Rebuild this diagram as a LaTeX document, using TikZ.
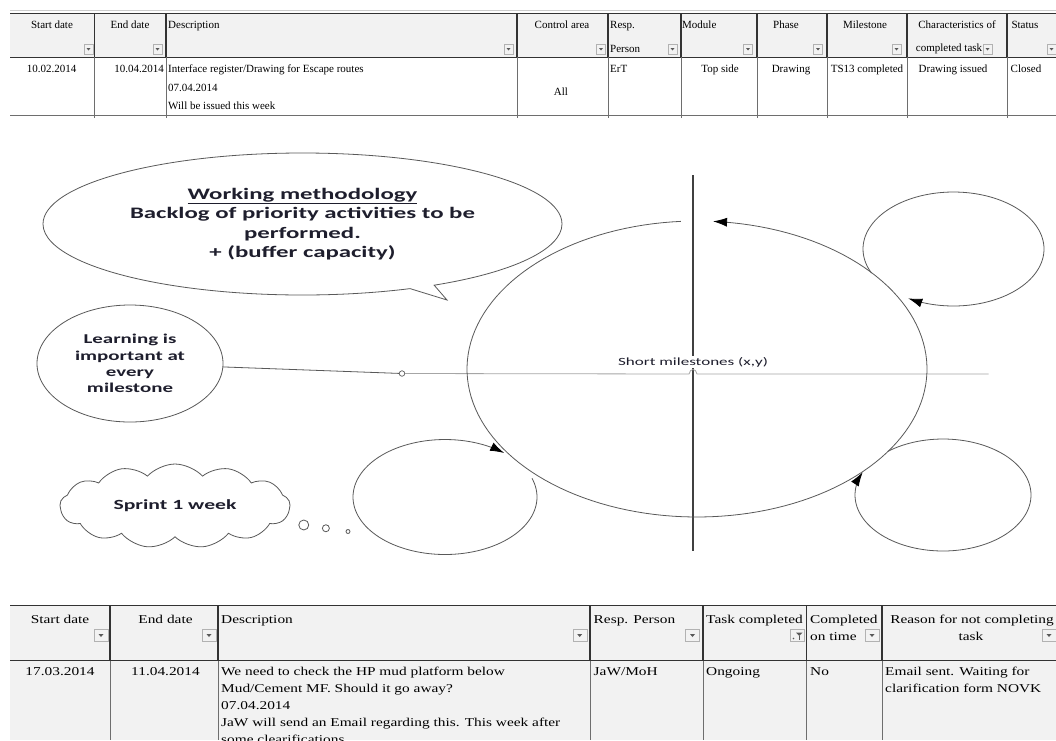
\documentclass[tikz,border=0pt]{standalone}
\usepackage{fontspec}
\setmainfont{Liberation Serif}
\newfontfamily\tabfont[FakeStretch=1.28]{Liberation Serif}
\newfontfamily\calib[FakeStretch=1.55]{Carlito}
\usetikzlibrary{arrows.meta, shapes.geometric, shapes.symbols, shapes.callouts}
\definecolor{kopfgrau}{RGB}{242,242,242}
\definecolor{liniegrau}{RGB}{110,110,110}
\definecolor{textdunkel}{RGB}{30,30,45}

\begin{document}
\begin{tikzpicture}[x=1pt, y=-1pt, >={Latex[length=14pt,width=9pt,color=black]}, font=\fontsize{11}{13}\selectfont,
		kopf/.style={anchor=base, inner sep=0pt},
		kopfl/.style={anchor=base west, inner sep=0pt},
		dick/.style={black!80, line width=1.6pt},
		gitter/.style={liniegrau, line width=0.9pt},
		knopf/.style={draw=gray!60, fill=gray!10, line width=0.4pt},
		unten/.style={font=\tabfont\fontsize{12}{14}\selectfont},
		blase/.style={draw=black!65, line width=0.8pt, fill=white, text=textdunkel, align=center, inner sep=0pt},
		schleife/.style={black!65, line width=0.8pt}]
				\useasboundingbox (0,0) rectangle (1056,740);
				\fill[white] (0,0) rectangle (1056,740);
				% Tabelle oben
				\fill[kopfgrau] (10,13.5) rectangle (1056,57.4);
				\draw[gray!40, line width=0.8pt] (10,10) -- (1056,10);
				\draw[dick] (10,13.5) -- (1056,13.5);
				\draw[dick] (10,57.4) -- (1056,57.4);
				\draw[gitter] (10,115) -- (1056,115);
				\foreach \x in {94.6,166,517,608,681,757,827,907,1007} {
					\draw[dick, line width=1.2pt] (\x,13.5) -- (\x,57.4);
					\draw[gitter] (\x,57.4) -- (\x,118);
				}
				\foreach \x in {93,162,513,605.5,677,752.5,822.5,901,992,1056} {
					\draw[knopf] (\x-9,44) rectangle (\x,54);
					\fill[gray!70!black] (\x-6.5,48) -- (\x-2.5,48) -- (\x-4.5,50.5) -- cycle;
				}
				% Kopfzeile oben
				\node[kopf] (ks) at (52,28.7) {Start date};
				\node[kopf] (ke) at (130,28.7) {End date};
				\node[kopfl] (kd) at (168,28.7) {Description};
				\node[kopf] (kc) at (562,28.7) {Control area};
				\node[kopfl] (kr1) at (610,28.7) {Resp.};
				\node[kopfl] (kr2) at (610,52.5) {Person};
				\node[kopfl] (km) at (682,28.7) {Module};
				\node[kopf] (kp) at (786,28.7) {Phase};
				\node[kopf] (kms) at (865,28.7) {Milestone};
				\node[kopf] (kch1) at (957,28.7) {Characteristics of};
				\node[kopf] (kch2) at (949,51) {completed task};
				\node[kopf] (kst) at (1025,28.7) {Status};
				% Datenzeile oben
				\node[kopf] (d1) at (51.5,72.6) {10.02.2014};
				\node[anchor=base east, inner sep=0pt] (d2) at (164,72.6) {10.04.2014};
				\node[kopfl] (d3a) at (168,72.6) {Interface register/Drawing for Escape routes};
				\node[kopfl] (d3b) at (168,91) {07.04.2014};
				\node[kopfl] (d3c) at (168,109) {Will be issued this week};
				\node[kopf] (d4) at (561,95) {All};
				\node[kopfl] (d5) at (610,72.6) {ErT};
				\node[kopf] (d6) at (720,72.6) {Top side};
				\node[kopf] (d7) at (791,72.6) {Drawing};
				\node[kopf] (d8) at (867,72.6) {TS13 completed};
				\node[kopf] (d9) at (953,72.6) {Drawing issued};
				\node[kopf] (d10) at (1026,72.6) {Closed};
				% Tabelle unten
				\fill[kopfgrau] (10,605.5) rectangle (1056,740);
				\draw[dick] (10,605.5) -- (1056,605.5);
				\draw[dick] (10,660.5) -- (1056,660.5);
				\foreach \x in {110,218,590,703,806.5,882} {
					\draw[dick, line width=1.2pt] (\x,605.5) -- (\x,660.5);
					\draw[gitter] (\x,660.5) -- (\x,740);
				}
				\foreach \x in {108,216,586.7,699.5,879,1056} {
					\draw[knopf] (\x-14,629) rectangle (\x,641);
					\fill[gray!70!black] (\x-9.5,634) -- (\x-4.5,634) -- (\x-7,637) -- cycle;
				}
				% Filterknopf
				\draw[knopf] (790,629) rectangle (804,641);
				\fill[gray!70!black] (796,632.5) -- (802.5,632.5) -- (799.25,636) -- cycle;
				\draw[gray!70!black, line width=0.8pt] (799.25,635.5) -- (799.25,639.5);
				\fill[gray!70!black] (793.5,638.5) circle (0.8);
				% Kopfzeile unten
				\node[kopf, unten] (us) at (60,623.4) {Start date};
				\node[kopf, unten] (ue) at (165.5,623.4) {End date};
				\node[kopfl, unten] (ud) at (221,623.4) {Description};
				\node[kopfl, unten] (ur) at (593.5,623.4) {Resp. Person};
				\node[kopfl, unten] (ut) at (706,623.4) {Task completed};
				\node[kopfl, unten] (uc1) at (810,623.4) {Completed};
				\node[kopfl, unten] (uc2) at (810,640) {on time};
				\node[kopf, unten] (ug1) at (972,623.4) {Reason for not completing};
				\node[kopf, unten] (ug2) at (971,640) {task};
				% Datenzeile unten
				\node[kopf, unten] (w1) at (60,675.4) {17.03.2014};
				\node[kopf, unten] (w2) at (165.5,675.4) {11.04.2014};
				\node[kopfl, unten] (w3a) at (221,675.4) {We need to check the HP mud platform below};
				\node[kopfl, unten] (w3b) at (221,692.3) {Mud/Cement MF. Should it go away?};
				\node[kopfl, unten] (w3c) at (221,709.2) {07.04.2014};
				\node[kopfl, unten] (w3d) at (221,726.1) {JaW will send an Email regarding this. This week after};
				\node[kopfl, unten] (w3e) at (221,743) {some clearifications};
				\node[kopfl, unten] (w4) at (593.5,675.4) {JaW/MoH};
				\node[kopfl, unten] (w5) at (706,675.4) {Ongoing};
				\node[kopfl, unten] (w6) at (810,675.4) {No};
				\node[kopfl, unten] (w7a) at (885,675.4) {Email sent. Waiting for};
				\node[kopfl, unten] (w7b) at (885,692.3) {clarification form NOVK};
				% Sprechblase und Wolke
				\node[blase, ellipse callout, callout absolute pointer={(447,300)}, callout pointer arc=6,
					minimum width=519, minimum height=142, font=\calib\bfseries\fontsize{16}{19.5}\selectfont]
					(methode) at (302.5,224) {\underline{Working methodology}\\Backlog of priority activities to be\\performed.\\+ (buffer capacity)};
				\node[blase, ellipse, minimum width=186, minimum height=117, font=\calib\bfseries\fontsize{13.5}{16.3}\selectfont]
					(lernen) at (130,363.5) {Learning is\\important at\\every\\milestone};
				\node[blase, cloud callout, cloud puffs=13, cloud puff arc=95, aspect=2.6, minimum width=230, minimum height=84,
					callout absolute pointer={(348,531.5)}, callout pointer start size=13pt, callout pointer end size=4pt,
					callout pointer segments=3, font=\calib\bfseries\fontsize{14}{16}\selectfont]
					(sprint) at (175,506) {Sprint 1 week};
				% Achsen
				\coordinate (oben) at (693,175);
				\coordinate (unterende) at (693,551);
				\coordinate (rechts) at (988.5,374);
				\node[circle, draw=black!65, fill=white, inner sep=0pt, minimum size=5.5, line width=0.7pt] (knoten) at (402,373.5) {};
				\draw[black!75, line width=1.5pt] (oben) -- (unterende);
				\draw[gray!70, line width=0.8pt] (knoten.east) -- (689,374) .. controls (690,368) and (696,368) .. (697,374) -- (rechts);
				\draw[schleife] (lernen) -- (knoten);
				\node[fill=white, inner sep=1pt, text=textdunkel, font=\calib\fontsize{11}{13}\selectfont] (kurz) at (693,362) {Short milestones (x,y)};
				% Kreise mit Pfeilen
				\draw[schleife, ->] plot[domain=266:-86, samples=150] ({697+230*cos(\x)}, {369+148*sin(\x)});
				\draw[schleife, ->] plot[domain=155:480, samples=120] ({953.5+90.5*cos(\x)}, {249+57*sin(\x)});
				\draw[schleife, ->] plot[domain=231:564, samples=120] ({943+88*cos(\x)}, {495+56*sin(\x)});
				\draw[schleife, ->] plot[domain=-19:310, samples=120] ({445+92*cos(\x)}, {497+57.5*sin(\x)});
\end{tikzpicture}
\end{document}
